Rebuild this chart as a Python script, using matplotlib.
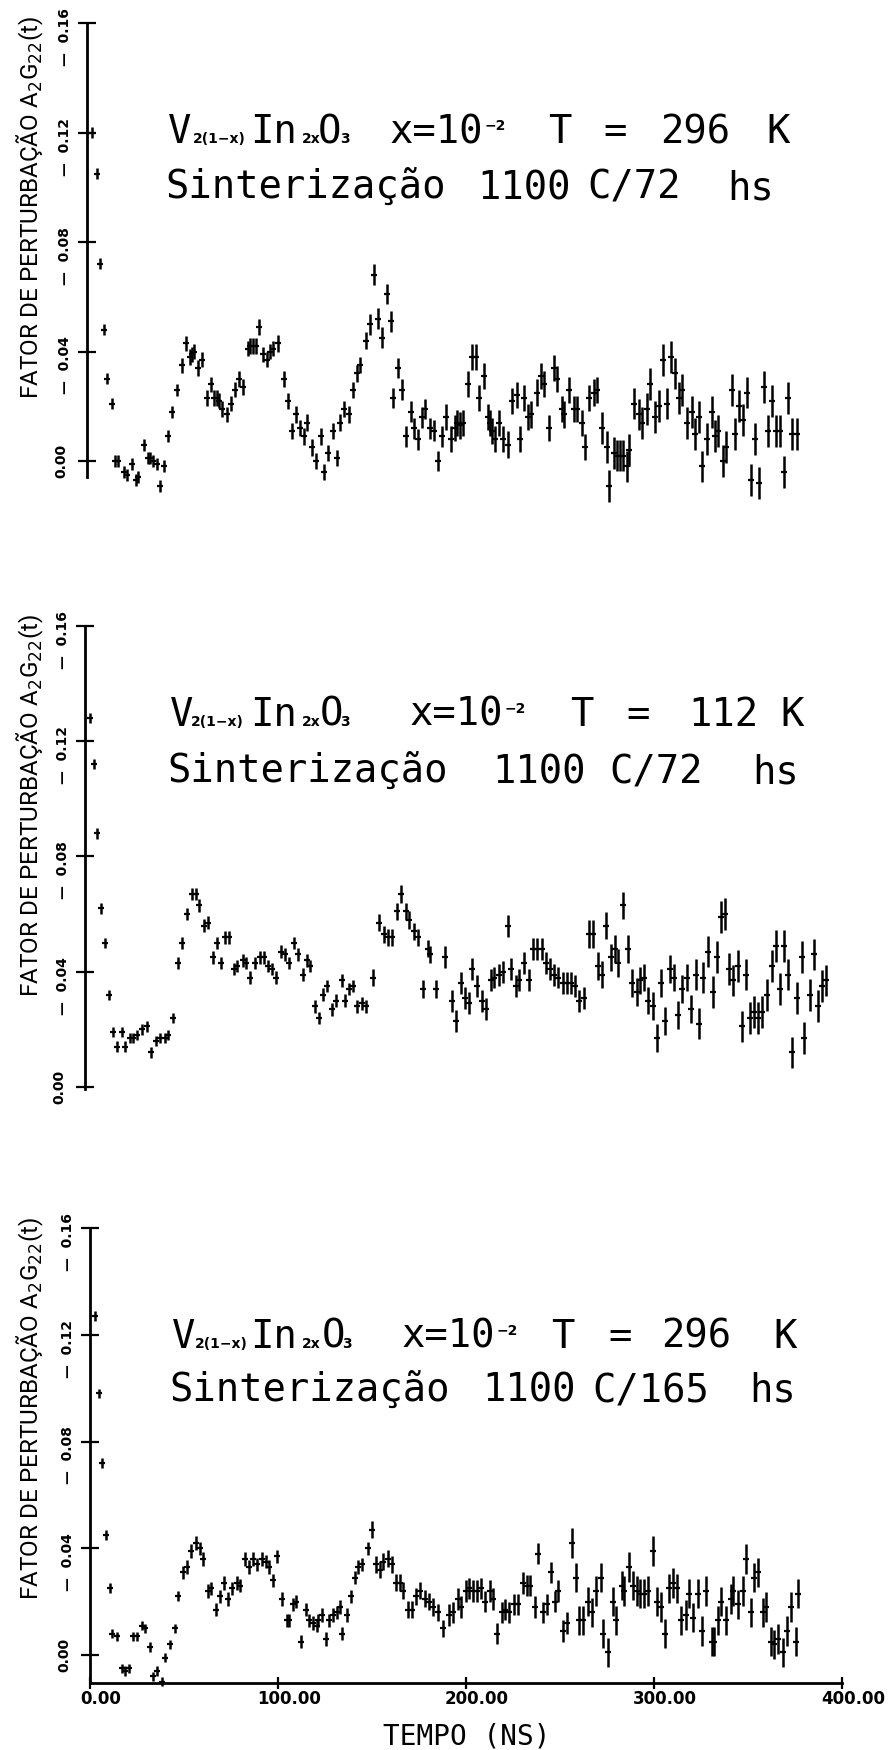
import matplotlib
matplotlib.use("Agg")
import matplotlib.pyplot as plt
from matplotlib.transforms import ScaledTranslation

W, H, DPI = 893, 1750, 100

# A2G22(t) against time (ns); three measurements of V2(1-x)In2xO3, x = 1e-2
t1 = [2.8, 5.1, 7.0, 9.0, 10.6, 13.1, 14.9, 16.3, 19.9, 21.1,
      23.8, 25.9, 27.3, 30.5, 32.3, 33.5, 34.9, 37.1, 38.8, 41.0,
      43.3, 45.4, 48.0, 50.4, 52.5, 54.8, 55.7, 57.1, 59.2, 61.0,
      63.7, 65.8, 67.7, 69.0, 70.2, 72.0, 74.3, 76.6, 78.7, 80.9,
      83.2, 85.5, 86.7, 88.5, 89.7, 91.5, 93.8, 95.6, 97.3, 99.1,
      101.4, 105.0, 106.7, 108.9, 111.0, 113.3, 115.4, 117.2, 119.9, 121.8,
      124.5, 126.2, 128.4, 130.7, 133.0, 134.8, 136.9, 139.4, 141.3, 143.4,
      145.2, 148.2, 150.5, 152.5, 155.0, 157.1, 159.4, 161.7, 163.0, 165.6,
      167.7, 169.5, 172.2, 174.1, 176.2, 178.4, 179.8, 182.5, 184.8, 186.5,
      189.0, 190.8, 193.5, 195.8, 197.0, 198.4, 199.9, 202.5, 204.6, 207.0,
      208.5, 211.2, 213.5, 214.4, 215.3, 217.2, 219.4, 221.5, 223.8, 226.3,
      228.9, 230.4, 232.5, 234.8, 236.0, 239.2, 241.5, 243.3, 245.8, 248.4,
      249.9, 252.5, 253.8, 256.6, 259.3, 260.5, 263.2, 264.9, 267.2, 269.7,
      271.1, 274.2, 276.5, 277.9, 280.4, 281.8, 283.5, 285.0, 287.1, 288.5,
      291.2, 293.7, 295.1, 297.7, 299.5, 302.2, 304.5, 306.2, 308.7, 310.7,
      312.8, 315.1, 316.7, 319.4, 321.7, 323.4, 325.7, 327.3, 329.6, 332.3,
      334.1, 335.8, 338.5, 339.9, 343.1, 344.7, 347.0, 349.2, 351.3, 353.2,
      355.5, 357.5, 360.1, 362.1, 364.2, 366.5, 368.7, 370.8, 372.9, 375.2,
      377.5]
a1 = [0.120, 0.105, 0.072, 0.048, 0.030, 0.021, 0.000, 0.000, -0.004, -0.005,
      -0.001, -0.007, -0.006, 0.006, 0.001, 0.001, 0.000, -0.001, -0.009, -0.002,
      0.009, 0.018, 0.026, 0.035, 0.043, 0.038, 0.039, 0.040, 0.034, 0.037,
      0.023, 0.028, 0.023, 0.023, 0.022, 0.019, 0.017, 0.021, 0.026, 0.030,
      0.027, 0.041, 0.042, 0.042, 0.042, 0.049, 0.039, 0.037, 0.040, 0.041,
      0.043, 0.030, 0.022, 0.011, 0.017, 0.012, 0.009, 0.014, 0.005, 0.000,
      0.009, -0.004, 0.003, 0.011, 0.001, 0.014, 0.019, 0.017, 0.026, 0.032,
      0.035, 0.044, 0.050, 0.068, 0.052, 0.045, 0.061, 0.051, 0.023, 0.034,
      0.026, 0.009, 0.018, 0.012, 0.008, 0.016, 0.019, 0.012, 0.011, 0.000,
      0.009, 0.016, 0.008, 0.012, 0.014, 0.013, 0.014, 0.028, 0.038, 0.038,
      0.023, 0.031, 0.016, 0.014, 0.011, 0.008, 0.014, 0.008, 0.006, 0.022,
      0.024, 0.008, 0.023, 0.016, 0.017, 0.025, 0.031, 0.028, 0.012, 0.034,
      0.030, 0.019, 0.017, 0.026, 0.019, 0.019, 0.014, 0.005, 0.023, 0.025,
      0.026, 0.012, 0.005, -0.009, 0.003, 0.002, 0.002, 0.002, -0.002, 0.004,
      0.021, 0.017, 0.014, 0.019, 0.028, 0.016, 0.020, 0.037, 0.021, 0.038,
      0.032, 0.023, 0.026, 0.014, 0.018, 0.010, 0.016, -0.002, 0.008, 0.018,
      0.009, 0.011, 0.000, 0.005, 0.026, 0.010, 0.020, 0.015, 0.025, -0.007,
      0.008, -0.008, 0.027, 0.011, 0.022, 0.011, 0.011, -0.004, 0.023, 0.010,
      0.010]
e1 = [0.0020, 0.0020, 0.0020, 0.0020, 0.0020, 0.0020, 0.0022, 0.0022, 0.0022, 0.0022,
      0.0022, 0.0022, 0.0022, 0.0022, 0.0022, 0.0022, 0.0022, 0.0022, 0.0022, 0.0022,
      0.0022, 0.0022, 0.0022, 0.0028, 0.0028, 0.0028, 0.0028, 0.0028, 0.0028, 0.0028,
      0.0028, 0.0028, 0.0028, 0.0028, 0.0028, 0.0028, 0.0028, 0.0028, 0.0028, 0.0028,
      0.0028, 0.0028, 0.0028, 0.0028, 0.0028, 0.0028, 0.0028, 0.0028, 0.0028, 0.0028,
      0.0030, 0.0030, 0.0030, 0.0030, 0.0030, 0.0030, 0.0030, 0.0030, 0.0030, 0.0030,
      0.0030, 0.0030, 0.0030, 0.0030, 0.0030, 0.0030, 0.0030, 0.0030, 0.0030, 0.0030,
      0.0030, 0.0030, 0.0038, 0.0038, 0.0038, 0.0038, 0.0038, 0.0038, 0.0038, 0.0038,
      0.0038, 0.0038, 0.0038, 0.0038, 0.0038, 0.0038, 0.0038, 0.0038, 0.0038, 0.0038,
      0.0038, 0.0048, 0.0048, 0.0048, 0.0048, 0.0048, 0.0048, 0.0048, 0.0048, 0.0048,
      0.0048, 0.0048, 0.0048, 0.0048, 0.0048, 0.0048, 0.0048, 0.0048, 0.0048, 0.0048,
      0.0048, 0.0048, 0.0048, 0.0048, 0.0048, 0.0048, 0.0048, 0.0048, 0.0048, 0.0048,
      0.0048, 0.0048, 0.0048, 0.0048, 0.0048, 0.0048, 0.0048, 0.0048, 0.0048, 0.0048,
      0.0048, 0.0058, 0.0058, 0.0058, 0.0058, 0.0058, 0.0058, 0.0058, 0.0058, 0.0058,
      0.0058, 0.0058, 0.0058, 0.0058, 0.0058, 0.0058, 0.0058, 0.0058, 0.0058, 0.0058,
      0.0058, 0.0058, 0.0058, 0.0058, 0.0058, 0.0058, 0.0058, 0.0058, 0.0058, 0.0058,
      0.0058, 0.0058, 0.0058, 0.0058, 0.0058, 0.0058, 0.0058, 0.0058, 0.0058, 0.0058,
      0.0058, 0.0058, 0.0058, 0.0058, 0.0058, 0.0058, 0.0058, 0.0058, 0.0058, 0.0058,
      0.0058]

t2 = [2.7, 4.8, 6.2, 8.3, 10.6, 12.8, 15.1, 16.8, 19.5, 21.3,
      23.9, 25.7, 27.5, 30.1, 32.8, 35.1, 37.8, 39.9, 42.6, 44.3,
      47.0, 49.3, 51.4, 54.1, 56.7, 59.0, 60.8, 63.3, 65.6, 67.9,
      70.4, 72.5, 74.5, 76.8, 79.3, 81.0, 83.9, 85.6, 87.8, 90.4,
      93.1, 95.2, 97.5, 99.3, 101.6, 104.3, 106.4, 108.7, 111.2, 113.5,
      115.8, 118.0, 119.7, 122.3, 124.6, 126.8, 128.9, 131.4, 133.5, 136.5,
      138.3, 140.6, 142.7, 144.9, 147.2, 149.5, 153.0, 156.6, 159.0, 161.3,
      163.1, 165.8, 168.1, 170.7, 172.5, 175.0, 177.3, 179.6, 182.6, 183.5,
      186.7, 191.5, 195.0, 197.3, 199.8, 202.1, 204.4, 206.0, 208.7, 211.0,
      213.1, 215.8, 217.5, 220.2, 222.5, 225.1, 226.4, 229.2, 231.0, 233.7,
      236.3, 238.5, 240.6, 242.9, 245.2, 247.3, 249.4, 251.7, 254.0, 256.2,
      258.3, 260.6, 262.9, 265.4, 268.2, 270.4, 272.7, 274.8, 277.1, 279.6,
      281.9, 283.7, 286.3, 288.6, 290.8, 293.4, 295.2, 297.3, 299.6, 301.9,
      304.0, 306.4, 308.7, 311.1, 313.4, 315.2, 317.7, 320.0, 322.1, 324.8,
      326.7, 328.9, 331.5, 333.8, 336.3, 338.3, 340.4, 342.7, 344.8, 347.1,
      349.3, 351.4, 353.7, 356.0, 358.1, 359.9, 362.6, 365.2, 367.5, 369.7,
      371.8, 374.1, 375.9, 378.9, 381.2, 382.6, 385.6, 387.7, 390.1, 391.8,
      393.9]
a2 = [0.128, 0.112, 0.088, 0.062, 0.050, 0.032, 0.019, 0.014, 0.019, 0.014,
      0.017, 0.017, 0.018, 0.020, 0.021, 0.012, 0.016, 0.017, 0.017, 0.018,
      0.024, 0.043, 0.050, 0.060, 0.067, 0.067, 0.063, 0.056, 0.057, 0.045,
      0.050, 0.043, 0.052, 0.052, 0.041, 0.042, 0.044, 0.043, 0.038, 0.043,
      0.045, 0.045, 0.042, 0.041, 0.038, 0.047, 0.046, 0.043, 0.050, 0.046,
      0.039, 0.044, 0.042, 0.028, 0.024, 0.032, 0.035, 0.027, 0.030, 0.037,
      0.030, 0.034, 0.035, 0.028, 0.029, 0.028, 0.038, 0.057, 0.053, 0.052,
      0.052, 0.061, 0.067, 0.061, 0.058, 0.054, 0.052, 0.034, 0.048, 0.046,
      0.034, 0.045, 0.030, 0.023, 0.036, 0.031, 0.029, 0.041, 0.035, 0.030,
      0.027, 0.037, 0.038, 0.039, 0.040, 0.056, 0.041, 0.035, 0.037, 0.043,
      0.037, 0.048, 0.048, 0.048, 0.043, 0.041, 0.039, 0.038, 0.036, 0.036,
      0.036, 0.035, 0.030, 0.031, 0.053, 0.053, 0.042, 0.039, 0.056, 0.045,
      0.048, 0.043, 0.063, 0.048, 0.036, 0.033, 0.037, 0.038, 0.030, 0.028,
      0.017, 0.036, 0.023, 0.041, 0.038, 0.025, 0.034, 0.038, 0.027, 0.039,
      0.022, 0.038, 0.047, 0.033, 0.045, 0.059, 0.060, 0.041, 0.037, 0.042,
      0.021, 0.039, 0.024, 0.026, 0.024, 0.026, 0.032, 0.042, 0.049, 0.034,
      0.049, 0.039, 0.012, 0.031, 0.045, 0.017, 0.032, 0.046, 0.028, 0.035,
      0.037]
e2 = [0.0018, 0.0018, 0.0018, 0.0018, 0.0018, 0.0018, 0.0018, 0.0018, 0.0018, 0.0018,
      0.0018, 0.0018, 0.0018, 0.0018, 0.0018, 0.0018, 0.0018, 0.0018, 0.0018, 0.0018,
      0.0018, 0.0022, 0.0022, 0.0022, 0.0022, 0.0022, 0.0022, 0.0022, 0.0022, 0.0022,
      0.0022, 0.0022, 0.0022, 0.0022, 0.0022, 0.0022, 0.0022, 0.0022, 0.0022, 0.0022,
      0.0022, 0.0022, 0.0022, 0.0022, 0.0022, 0.0022, 0.0022, 0.0022, 0.0022, 0.0022,
      0.0022, 0.0022, 0.0022, 0.0022, 0.0022, 0.0022, 0.0022, 0.0022, 0.0022, 0.0022,
      0.0022, 0.0022, 0.0022, 0.0022, 0.0022, 0.0022, 0.0030, 0.0030, 0.0030, 0.0030,
      0.0030, 0.0030, 0.0030, 0.0030, 0.0030, 0.0030, 0.0030, 0.0030, 0.0030, 0.0030,
      0.0030, 0.0038, 0.0038, 0.0038, 0.0038, 0.0038, 0.0038, 0.0038, 0.0038, 0.0038,
      0.0038, 0.0038, 0.0038, 0.0038, 0.0038, 0.0038, 0.0038, 0.0038, 0.0038, 0.0038,
      0.0038, 0.0038, 0.0038, 0.0038, 0.0038, 0.0038, 0.0038, 0.0038, 0.0038, 0.0038,
      0.0038, 0.0038, 0.0038, 0.0038, 0.0048, 0.0048, 0.0048, 0.0048, 0.0048, 0.0048,
      0.0048, 0.0048, 0.0048, 0.0048, 0.0048, 0.0048, 0.0048, 0.0048, 0.0048, 0.0048,
      0.0048, 0.0048, 0.0048, 0.0048, 0.0048, 0.0048, 0.0048, 0.0048, 0.0048, 0.0055,
      0.0055, 0.0055, 0.0055, 0.0055, 0.0055, 0.0055, 0.0055, 0.0055, 0.0055, 0.0055,
      0.0055, 0.0055, 0.0055, 0.0055, 0.0055, 0.0055, 0.0055, 0.0055, 0.0055, 0.0055,
      0.0055, 0.0055, 0.0055, 0.0055, 0.0055, 0.0055, 0.0055, 0.0055, 0.0055, 0.0055,
      0.0055]

t3 = [2.7, 4.8, 6.2, 8.3, 10.6, 11.9, 14.2, 17.2, 18.6, 20.9,
      23.0, 24.8, 27.5, 29.3, 31.9, 33.7, 35.5, 38.1, 39.9, 42.6,
      45.2, 47.0, 49.6, 51.4, 53.7, 56.4, 58.5, 60.3, 62.6, 64.4,
      67.0, 69.1, 71.5, 73.2, 75.4, 78.0, 79.8, 82.4, 84.6, 86.9,
      88.7, 91.3, 93.4, 95.2, 97.5, 99.3, 101.9, 104.6, 105.9, 108.2,
      109.4, 112.2, 114.7, 116.5, 118.8, 120.6, 121.5, 123.6, 125.4, 127.3,
      129.4, 131.2, 133.0, 133.9, 136.5, 138.8, 141.0, 142.7, 144.5, 147.7,
      150.2, 152.0, 154.3, 155.9, 158.3, 160.5, 162.6, 164.9, 166.7, 169.0,
      171.5, 173.4, 175.5, 178.2, 180.3, 182.6, 185.0, 188.0, 191.2, 192.9,
      196.0, 197.2, 200.0, 201.8, 203.6, 206.1, 207.8, 210.1, 212.8, 214.2,
      216.7, 219.2, 220.8, 223.1, 225.6, 227.5, 230.2, 232.3, 234.1, 236.7,
      238.5, 240.8, 242.9, 245.2, 247.4, 249.1, 251.4, 253.9, 256.2, 258.4,
      260.3, 262.1, 265.1, 266.9, 269.2, 271.7, 273.1, 275.4, 278.0, 279.8,
      282.8, 284.2, 286.6, 289.0, 290.8, 292.6, 294.7, 297.0, 299.7, 301.8,
      303.6, 306.1, 308.2, 310.3, 312.4, 314.2, 317.1, 318.8, 320.9, 323.6,
      325.4, 327.7, 330.7, 331.9, 334.2, 335.9, 338.3, 340.8, 342.2, 344.9,
      347.2, 349.0, 351.4, 353.4, 355.5, 357.8, 359.6, 362.1, 364.0, 366.2,
      368.5, 370.6, 372.7, 375.4, 376.8]
a3 = [0.127, 0.098, 0.072, 0.045, 0.025, 0.008, 0.007, -0.005, -0.006, -0.005,
      0.007, 0.007, 0.011, 0.010, 0.003, -0.008, -0.006, -0.010, -0.001, 0.004,
      0.010, 0.022, 0.031, 0.033, 0.039, 0.042, 0.040, 0.036, 0.024, 0.025,
      0.017, 0.022, 0.027, 0.021, 0.025, 0.027, 0.026, 0.036, 0.033, 0.036,
      0.034, 0.036, 0.035, 0.033, 0.028, 0.037, 0.021, 0.013, 0.013, 0.019,
      0.020, 0.005, 0.017, 0.013, 0.012, 0.011, 0.013, 0.015, 0.006, 0.013,
      0.015, 0.016, 0.018, 0.008, 0.015, 0.022, 0.029, 0.033, 0.034, 0.040,
      0.047, 0.034, 0.032, 0.035, 0.036, 0.034, 0.027, 0.027, 0.024, 0.017,
      0.017, 0.022, 0.024, 0.021, 0.020, 0.018, 0.016, 0.010, 0.015, 0.016,
      0.021, 0.018, 0.024, 0.025, 0.024, 0.024, 0.025, 0.020, 0.024, 0.021,
      0.008, 0.016, 0.017, 0.016, 0.019, 0.019, 0.027, 0.026, 0.026, 0.018,
      0.038, 0.016, 0.019, 0.031, 0.020, 0.024, 0.009, 0.012, 0.042, 0.029,
      0.013, 0.013, 0.020, 0.016, 0.024, 0.029, 0.008, 0.001, 0.020, 0.013,
      0.026, 0.024, 0.033, 0.026, 0.024, 0.023, 0.023, 0.024, 0.039, 0.020,
      0.018, 0.008, 0.025, 0.027, 0.025, 0.013, 0.015, 0.023, 0.014, 0.023,
      0.009, 0.024, 0.005, 0.005, 0.013, 0.020, 0.013, 0.021, 0.024, 0.019,
      0.024, 0.036, 0.016, 0.029, 0.031, 0.016, 0.018, 0.005, 0.004, 0.006,
      0.001, 0.009, 0.018, 0.005, 0.023]
e3 = [0.0018, 0.0018, 0.0018, 0.0018, 0.0018, 0.0018, 0.0018, 0.0018, 0.0018, 0.0018,
      0.0018, 0.0018, 0.0018, 0.0018, 0.0018, 0.0018, 0.0018, 0.0018, 0.0018, 0.0018,
      0.0018, 0.0018, 0.0025, 0.0025, 0.0025, 0.0025, 0.0025, 0.0025, 0.0025, 0.0025,
      0.0025, 0.0025, 0.0025, 0.0025, 0.0025, 0.0025, 0.0025, 0.0025, 0.0025, 0.0025,
      0.0025, 0.0025, 0.0025, 0.0025, 0.0025, 0.0025, 0.0025, 0.0025, 0.0025, 0.0025,
      0.0025, 0.0025, 0.0025, 0.0025, 0.0025, 0.0025, 0.0025, 0.0025, 0.0025, 0.0025,
      0.0025, 0.0025, 0.0025, 0.0025, 0.0025, 0.0025, 0.0025, 0.0025, 0.0025, 0.0025,
      0.0032, 0.0032, 0.0032, 0.0032, 0.0032, 0.0032, 0.0032, 0.0032, 0.0032, 0.0032,
      0.0032, 0.0032, 0.0032, 0.0032, 0.0032, 0.0032, 0.0032, 0.0032, 0.0040, 0.0040,
      0.0040, 0.0040, 0.0040, 0.0040, 0.0040, 0.0040, 0.0040, 0.0040, 0.0040, 0.0040,
      0.0040, 0.0040, 0.0040, 0.0040, 0.0040, 0.0040, 0.0040, 0.0040, 0.0040, 0.0040,
      0.0040, 0.0040, 0.0040, 0.0040, 0.0040, 0.0040, 0.0040, 0.0040, 0.0055, 0.0055,
      0.0055, 0.0055, 0.0055, 0.0055, 0.0055, 0.0055, 0.0055, 0.0055, 0.0055, 0.0055,
      0.0055, 0.0055, 0.0055, 0.0055, 0.0055, 0.0055, 0.0055, 0.0055, 0.0055, 0.0055,
      0.0055, 0.0055, 0.0055, 0.0055, 0.0055, 0.0055, 0.0055, 0.0055, 0.0055, 0.0055,
      0.0055, 0.0055, 0.0055, 0.0055, 0.0055, 0.0055, 0.0055, 0.0055, 0.0055, 0.0055,
      0.0055, 0.0055, 0.0055, 0.0055, 0.0055, 0.0055, 0.0055, 0.0055, 0.0055, 0.0055,
      0.0055, 0.0055, 0.0055, 0.0055, 0.0055]

y_ticks = [0.00, 0.04, 0.08, 0.12, 0.16]
y_ticklabels = ["0.00", "\u2014  0.04", "\u2014  0.08", "\u2014  0.12", "\u2014  0.16"]
x_ticks = [0, 100, 200, 300, 400]
x_ticklabels = ["0.00", "100.00", "200.00", "300.00", "400.00"]

ylabel = "FATOR DE PERTURBAÇÃO A$_2$G$_{22}$(t)"
xlabel = "TEMPO (NS)"
temperatures = ["296", "112", "296"]
sintering = ["C/72", "C/72", "C/165"]

# pixel frame of each panel: axis x, y of 0.16, y of 0.00, lower end of axis
frames = [(87, 23, 461, 477), (85, 626, 1087, 1089), (90, 1228, 1655, 1683)]
label_mid = [208, 806, 1409]
baselines = [(143, 199), (726, 783), (1348, 1402)]
# x of: V, sub, In, sub, O, sub, "x=10", sup, T, "=", temperature, K
line1_x = [(168, 193, 250, 302, 318, 340, 390, 485, 548, 603, 660, 766),
           (170, 191, 250, 302, 320, 340, 410, 505, 570, 626, 688, 780),
           (172, 195, 250, 302, 322, 342, 402, 497, 551, 608, 661, 773)]
line2_x = [(165, 477, 587, 727), (167, 492, 609, 752), (169, 482, 592, 749)]

fig = plt.figure(figsize=(W / DPI, H / DPI), dpi=DPI)
fig.patch.set_facecolor("white")


def put(x, y, s, **kw):
    kw.setdefault("ha", "left")
    kw.setdefault("va", "baseline")
    fig.text(x / W, 1 - y / H, s, **kw)


mono = dict(family="DejaVu Sans Mono", fontsize=28, color="black")
small = dict(family="DejaVu Sans", fontsize=10, fontweight="bold", color="black")

for i, (t, a, e) in enumerate([(t1, a1, e1), (t2, a2, e2), (t3, a3, e3)]):
    left, top, zero, bot = frames[i]
    scale = (zero - top) / 0.16
    ymin = -(bot - zero) / scale
    ax = fig.add_axes([left / W, 1 - bot / H, 752 / W, (bot - top) / H])
    ax.set_facecolor("none")
    eb = ax.errorbar(t, a, yerr=e, fmt="_", color="black", ms=5, mew=1.6,
                     elinewidth=1.8, capsize=0)
    for art in eb.get_children():
        art.set_clip_on(False)
    ax.set_xlim(0, 400)
    ax.set_ylim(ymin, 0.16)
    for s in ("top", "right"):
        ax.spines[s].set_visible(False)
    ax.spines["left"].set_linewidth(2.0)
    ax.set_yticks(y_ticks)
    ax.set_yticklabels([])
    ax.tick_params(axis="y", direction="inout", length=13, width=1.6)

    # rotated tick labels with the dash hanging below the number
    tr = ax.get_yaxis_transform()
    for v, lab in zip(y_ticks, y_ticklabels):
        if v == 0:
            off = ScaledTranslation(-26 / DPI, 0, fig.dpi_scale_trans)
            ax.text(0, v, lab, transform=tr + off, rotation=90, ha="center",
                    va="center", fontsize=10, fontweight="bold")
        else:
            off = ScaledTranslation(-22 / DPI, 15 / DPI, fig.dpi_scale_trans)
            ax.text(0, v, lab, transform=tr + off, rotation=90, ha="center",
                    va="top", fontsize=10, fontweight="bold")

    if i < 2:
        ax.spines["bottom"].set_visible(False)
        ax.set_xticks([])
    else:
        ax.spines["bottom"].set_linewidth(2.0)
        ax.set_xticks(x_ticks)
        ax.set_xticklabels(x_ticklabels, fontsize=12, fontweight="bold")
        ax.tick_params(axis="x", direction="inout", length=8, width=1.6, pad=1)
        for lab in ax.get_xticklabels():
            lab.set_transform(lab.get_transform() +
                              ScaledTranslation(11 / DPI, 0, fig.dpi_scale_trans))

    put(30, label_mid[i], ylabel, rotation=90, ha="center", va="center",
        family=["Roboto", "DejaVu Sans"], fontsize=17.5, color="black")

    # sample description
    b1, b2 = baselines[i]
    xs = line1_x[i]
    pieces = [("V", "m"), ("2(1\u2212x)", "s"), ("In", "m"), ("2x", "s"),
              ("O", "m"), ("3", "s"), ("x=10", "m"), ("\u22122", "p"),
              ("T", "m"), ("=", "m"), (temperatures[i], "m"), ("K", "m")]
    for x, (s, kind) in zip(xs, pieces):
        if kind == "m":
            put(x, b1, s, **mono)
        elif kind == "s":
            put(x, b1, s, **small)
        else:
            put(x, b1 - 13, s, **small)
    for x, s in zip(line2_x[i], ["Sinterização", "1100", sintering[i], "hs"]):
        put(x, b2, s, **mono)

put(467, 1745, xlabel, ha="center", family="DejaVu Sans Mono", fontsize=20)

fig.savefig("out.png", dpi=DPI, facecolor="white")
